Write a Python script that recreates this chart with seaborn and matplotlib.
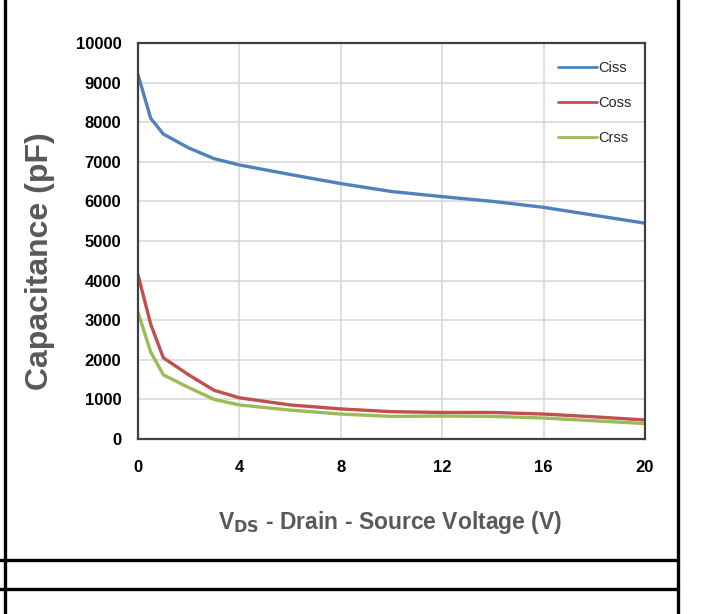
import matplotlib
matplotlib.use("Agg")
import matplotlib.pyplot as plt
import seaborn as sns
import pandas as pd
from matplotlib.lines import Line2D

# ---- data ----
vds = [0, 0.5, 1, 2, 3, 4, 6, 8, 10, 12, 14, 16, 18, 20]
ciss = [9200, 8100, 7700, 7350, 7080, 6920, 6680, 6450, 6250, 6120, 6000, 5850, 5650, 5450]
coss = [4150, 2900, 2050, 1620, 1230, 1040, 860, 760, 690, 670, 670, 630, 560, 480]
crss = [3200, 2200, 1620, 1300, 1000, 860, 730, 630, 570, 580, 570, 530, 460, 390]
series_names = ["Ciss", "Coss", "Crss"]
x_ticks = [0, 4, 8, 12, 16, 20]
y_ticks = [0, 1000, 2000, 3000, 4000, 5000, 6000, 7000, 8000, 9000, 10000]

df = pd.DataFrame({
    "VDS": vds * 3,
    "C": ciss + coss + crss,
    "series": [series_names[0]] * len(vds) + [series_names[1]] * len(vds) + [series_names[2]] * len(vds),
})

sns.set_theme(style="whitegrid")
plt.rcParams["font.family"] = ["Liberation Sans", "DejaVu Sans"]

fig = plt.figure(figsize=(7.02, 6.14), dpi=100)
ax = fig.add_axes([138 / 702, 1 - 439 / 614, (645 - 138) / 702, (439 - 43) / 614])

palette = {"Ciss": "#4F81BD", "Coss": "#C0504D", "Crss": "#9BBB59"}
sns.lineplot(data=df, x="VDS", y="C", hue="series", palette=palette,
             linewidth=2.4, ax=ax, legend=False)

ax.set_xlim(0, 20)
ax.set_ylim(0, 10000)
ax.set_xticks(x_ticks)
ax.set_yticks(y_ticks)
ax.set_xticklabels([str(t) for t in x_ticks], fontweight="bold", fontsize=12, color="black")
ax.set_yticklabels([str(t) for t in y_ticks], fontweight="bold", fontsize=12, color="black")
ax.tick_params(axis="x", pad=15, length=0)
ax.tick_params(axis="y", pad=12, length=0)
ax.grid(True, color="#D9D9D9", linewidth=1.2)
ax.set_facecolor("white")
for s in ax.spines.values():
    s.set_color("#404040")
    s.set_linewidth(1.6)

ax.set_xlabel("")
ax.set_ylabel("")
fig.text(40 / 702, 1 - 261 / 614, "Capacitance (pF)", rotation=90, ha="center", va="center",
         fontsize=23, fontweight="bold", color="#595959")
fig.text(390 / 702, 1 - 522 / 614, r"V$_{\mathbf{DS}}$ - Drain - Source Voltage (V)",
         ha="center", va="center", fontsize=16.5, fontweight="bold", color="#595959")

handles = [Line2D([0], [0], color=palette[n], lw=2.0) for n in series_names]
leg = ax.legend(handles, series_names, loc="upper right", frameon=False,
                bbox_to_anchor=(1.0, 0.988), handlelength=2.7, handletextpad=0.1,
                labelspacing=1.45, prop={"size": 10.5})

# table frame lines
frame_kw = dict(color="black", linewidth=2.4, transform=fig.transFigure, clip_on=False)
fig.add_artist(Line2D([5 / 702, 5 / 702], [0, 1], **frame_kw))
fig.add_artist(Line2D([678 / 702, 678 / 702], [0, 1], **frame_kw))
fig.add_artist(Line2D([0, 678 / 702], [1 - 560 / 614, 1 - 560 / 614], **frame_kw))
fig.add_artist(Line2D([0, 678 / 702], [1 - 589 / 614, 1 - 589 / 614], **frame_kw))

fig.savefig("out.png", dpi=100, facecolor="white")
